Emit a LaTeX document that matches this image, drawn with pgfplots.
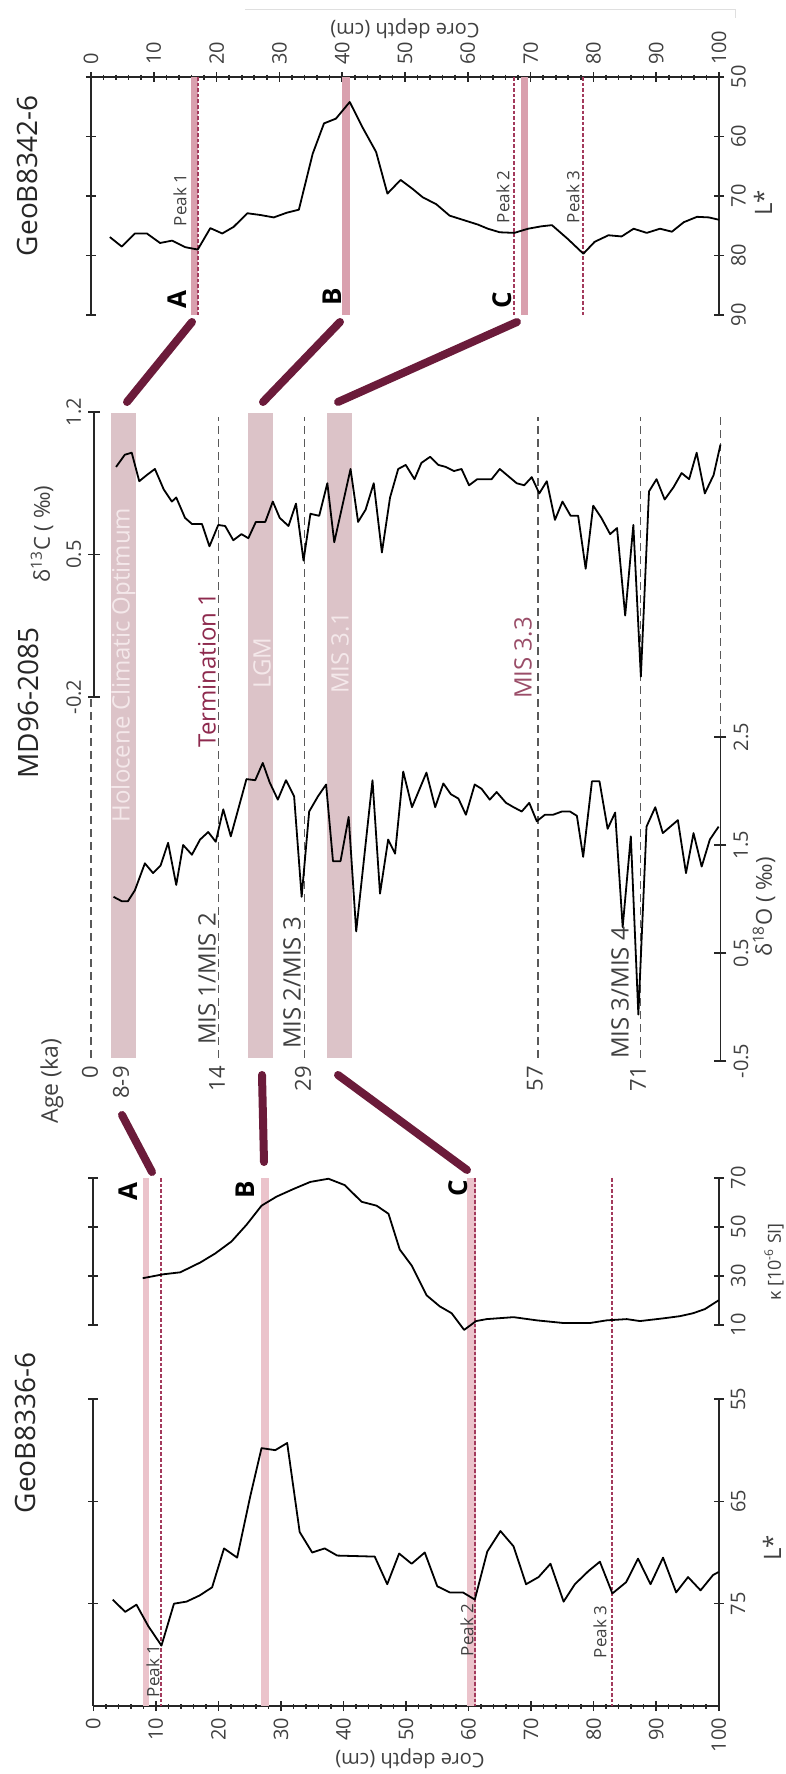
\documentclass[border=0pt]{standalone}
\usepackage{fontspec}
\setmainfont{Open Sans}
\usepackage{pgfplots}
\pgfplotsset{compat=1.18}

\definecolor{maroon}{HTML}{6B1B3A}
\definecolor{bandtop}{HTML}{D9A0AE}
\definecolor{bandmid}{HTML}{DCC3C8}
\definecolor{bandbot}{HTML}{EBC3CB}
\definecolor{peakline}{HTML}{A33A5C}
\definecolor{labelgray}{HTML}{404040}
\definecolor{bandtext}{HTML}{F4E8EA}
\definecolor{termcol}{HTML}{8E2A4E}
\definecolor{mis33}{HTML}{9A4D68}

\newcommand{\fs}[1]{\fontsize{#1}{#1}\selectfont}

\tikzset{
  peak/.style={peakline, line width=1pt, dash pattern=on 1.8pt off 1pt},
  agel/.style={gray!70!black, line width=0.6pt, dash pattern=on 4pt off 2.5pt},
}
\pgfplotsset{
  core/.style={
    scale only axis, clip=false, anchor=south west,
    axis line style={line width=0.9pt, black!85},
    tick style={black!85, line width=0.8pt},
    tick align=center,
    major tick length=5pt, minor tick length=2.5pt,
    /pgf/number format/assume math mode=true,
    tick label style={font=\fs{10}, text=labelgray},
  },
  depthx/.style={xmin=0, xmax=100, xtick={0,10,...,100}, minor x tick num=4,
    xticklabels={0,10,20,30,40,50,60,70,80,90,100}},
  curve/.style={black, line width=0.9pt, line join=round},
}

\begin{document}
\begin{tikzpicture}
\path[use as bounding box] (0,0) rectangle (393pt,887pt);

% ---------------- GeoB8342-6 : L* ----------------
\begin{axis}[core, depthx, at={(45.5pt,729.5pt)}, width=314pt, height=119pt,
  ymin=50, ymax=90, y dir=reverse,
  axis x line*=top, axis y line*=box,
  ytick={50,60,70,80,90}, yticklabels={50,60,70,80,90}, yticklabel pos=right,
  xticklabel style={rotate=90, anchor=west},
  yticklabel style={rotate=90, anchor=north},
]
\fill[bandtop] (axis cs:16.0,50) rectangle (axis cs:17.1,90);
\fill[bandtop] (axis cs:40.0,50) rectangle (axis cs:41.3,90);
\fill[bandtop] (axis cs:68.4,50) rectangle (axis cs:69.6,90);
\draw[peak] (axis cs:17.0,50) -- (axis cs:17.0,90);
\draw[peak] (axis cs:67.4,50) -- (axis cs:67.4,90);
\draw[peak] (axis cs:78.4,50) -- (axis cs:78.4,90);
\addplot[curve] table {
3.0 76.9
4.9 78.5
7.0 76.3
8.9 76.3
11.0 77.9
12.9 77.5
15.0 78.6
17.0 79.0
19.0 75.4
20.9 76.3
22.7 75.2
24.9 72.9
27.0 73.2
29.1 73.6
31.2 72.8
33.1 72.3
35.3 62.9
37.1 57.8
39.0 57.0
41.2 54.2
43.2 58.4
45.4 62.6
47.2 69.6
49.3 67.3
51.2 68.8
52.8 70.2
55.0 71.4
57.1 73.3
59.5 74.1
61.6 74.8
63.2 75.5
65.1 76.1
67.4 76.2
69.6 75.5
71.7 75.1
73.4 74.9
75.9 77.2
78.4 79.7
80.2 77.7
82.4 76.6
84.5 76.8
86.4 75.5
88.5 76.2
90.6 75.5
92.5 76.0
94.4 74.4
96.5 73.5
98.4 73.6
100.0 74.0
};
\end{axis}

% ---------------- MD96-2085 : bands and age marks ----------------
\begin{axis}[core, at={(47.05pt,358pt)}, width=313.2pt, height=322.5pt,
  xmin=0.5, xmax=100.4, ymin=0, ymax=645, hide axis]
\fill[bandmid] (axis cs:3.2,0) rectangle (axis cs:7.2,645);
\fill[bandmid] (axis cs:25.0,0) rectangle (axis cs:29.0,645);
\fill[bandmid] (axis cs:37.6,0) rectangle (axis cs:41.6,645);
\draw[agel] (axis cs:20.4,0) -- (axis cs:20.4,641);
\draw[agel] (axis cs:34.1,0) -- (axis cs:34.1,641);
\draw[agel] (axis cs:71.3,0) -- (axis cs:71.3,641);
\draw[agel] (axis cs:87.6,0) -- (axis cs:87.6,641);
\draw[agel] (axis cs:0.0,0) -- (axis cs:0.0,361);
\draw[agel] (axis cs:100.4,321) -- (axis cs:100.4,641);
\end{axis}

% ---------------- MD96-2085 : d13C ----------------
\begin{axis}[core, at={(47.05pt,538.5pt)}, width=313.2pt, height=142.5pt,
  xmin=0.5, xmax=100.4, ymin=-0.2, ymax=1.2,
  axis x line=none, axis y line*=left, major tick length=6pt,
  ytick={-0.2,0.5,1.2}, yticklabels={-0.2,0.5,1.2},
  yticklabel style={rotate=90, anchor=south},
]
\addplot[curve] table {
4.0 0.93
5.4 0.99
6.5 1.00
7.7 0.86
8.9 0.89
10.2 0.92
11.6 0.82
12.9 0.76
13.6 0.78
15.0 0.68
16.1 0.65
17.7 0.65
18.9 0.54
20.3 0.645
21.4 0.64
22.7 0.57
24.0 0.60
25.1 0.58
26.3 0.66
27.8 0.66
29.0 0.76
30.1 0.68
31.5 0.64
32.7 0.75
33.9 0.47
35.0 0.70
36.4 0.69
37.7 0.85
38.8 0.56
41.4 0.92
42.6 0.66
43.8 0.72
45.1 0.85
46.4 0.51
47.7 0.78
49.0 0.92
50.2 0.94
51.6 0.87
52.7 0.95
54.1 0.98
55.4 0.94
56.6 0.93
57.9 0.91
59.1 0.92
60.3 0.84
61.6 0.87
63.9 0.87
65.2 0.92
67.9 0.85
69.1 0.84
70.3 0.88
71.5 0.80
72.7 0.86
74.0 0.67
75.2 0.76
76.5 0.69
77.7 0.69
78.9 0.43
80.1 0.74
81.4 0.68
82.8 0.60
83.9 0.63
85.2 0.20
86.5 0.645
87.7 -0.10
89.0 0.81
90.2 0.87
91.5 0.77
92.9 0.83
94.2 0.90
95.4 0.87
96.6 1.00
97.9 0.80
99.3 0.89
100.4 1.04
};
\end{axis}

% ---------------- MD96-2085 : d18O ----------------
\begin{axis}[core, at={(47.05pt,356.5pt)}, width=313.2pt, height=162pt,
  xmin=0.5, xmax=100.4, ymin=-0.5, ymax=2.5,
  axis x line=none, axis y line*=right, major tick length=6pt,
  ytick={-0.5,0.5,1.5,2.5}, yticklabels={-0.5,0.5,1.5,2.5},
  yticklabel style={rotate=90, anchor=north},
]
\addplot[curve] table {
3.6 1.02
4.9 0.98
5.9 0.98
7.0 1.08
8.6 1.33
9.9 1.24
11.1 1.31
12.3 1.52
13.6 1.13
14.7 1.50
16.1 1.41
17.4 1.55
18.7 1.62
19.9 1.53
21.1 1.83
22.3 1.58
24.8 2.11
26.2 2.10
27.4 2.26
28.5 2.08
29.8 1.92
31.1 2.10
32.4 1.95
33.6 1.02
34.8 1.81
36.2 1.95
37.5 2.06
38.6 1.35
39.8 1.35
41.1 1.76
42.3 0.70
44.9 2.10
46.1 1.05
47.4 1.55
48.5 1.42
49.8 2.18
51.2 1.85
53.5 2.17
54.9 1.85
56.2 2.07
57.4 1.97
58.6 1.93
59.8 1.78
61.2 2.06
62.3 2.02
63.6 1.92
64.7 1.99
66.2 1.89
67.4 1.85
68.7 1.81
69.9 1.89
71.1 1.72
72.4 1.78
73.7 1.78
75.1 1.81
76.4 1.81
77.5 1.77
78.5 1.39
79.9 2.09
81.1 2.09
82.4 1.65
83.6 1.80
84.8 0.74
86.1 1.58
87.3 -0.07
88.6 1.67
90.0 1.85
91.2 1.61
93.6 1.73
94.9 1.24
96.1 1.61
97.4 1.30
98.7 1.55
100.1 1.67
};
\end{axis}

% ---------------- GeoB8336-6 : L* ----------------
\begin{axis}[core, depthx, at={(46.65pt,34pt)}, width=312.7pt, height=153.5pt,
  ymin=55, ymax=85, y dir=reverse,
  axis x line*=bottom, axis y line*=box,
  ytick={55,65,75}, yticklabels={55,65,75}, yticklabel pos=right,
  xticklabel style={rotate=90, anchor=east},
  yticklabel style={rotate=90, anchor=north},
]
\fill[bandbot] (axis cs:7.9,33.4) rectangle (axis cs:8.9,85);
\fill[bandbot] (axis cs:26.8,33.4) rectangle (axis cs:28.1,85);
\fill[bandbot] (axis cs:59.8,33.4) rectangle (axis cs:61.2,85);
\draw[peak] (axis cs:10.9,33.4) -- (axis cs:10.9,85);
\draw[peak] (axis cs:61.1,33.4) -- (axis cs:61.1,85);
\draw[peak] (axis cs:83.0,33.4) -- (axis cs:83.0,85);
\addplot[curve] table {
3.1 74.6
5.1 75.8
6.9 75.1
8.8 77.2
10.9 79.1
12.9 75.0
14.9 74.8
17.0 74.2
19.0 73.4
20.9 69.6
23.0 70.5
25.1 64.5
26.9 59.8
29.1 60.0
31.0 59.3
33.0 68.0
35.0 70.0
37.0 69.6
39.0 70.3
45.0 70.4
47.0 73.1
48.9 70.1
50.9 71.1
53.0 70.0
55.0 73.3
57.0 73.9
59.1 73.9
61.0 74.6
63.0 69.9
65.1 67.9
67.2 69.4
69.2 73.1
71.2 72.4
73.1 71.1
75.2 74.8
77.0 73.1
79.2 71.8
81.0 70.9
83.0 74.0
85.2 72.9
87.1 70.6
89.1 73.1
91.1 70.5
93.2 73.9
95.1 72.4
97.1 73.7
99.1 72.2
100.0 71.9
};
\end{axis}

% ---------------- GeoB8336-6 : magnetic susceptibility ----------------
\begin{axis}[core, at={(46.65pt,224.5pt)}, width=312.7pt, height=73.5pt,
  xmin=0, xmax=100, ymin=10, ymax=70,
  axis x line=none, axis y line*=box,
  ytick={10,30,50,70}, yticklabels={10,30,50,70}, yticklabel pos=right,
  yticklabel style={rotate=90, anchor=north},
]
\addplot[curve] table {
7.9 29.1
11.2 30.7
13.9 31.5
17.1 35.5
19.5 39.2
22.1 44.1
24.5 50.9
26.9 58.7
29.3 62.4
32.0 65.5
34.7 68.4
37.6 69.7
40.2 67.1
42.9 60.3
45.3 58.7
47.2 55.4
49.0 40.8
50.9 34.3
53.3 22.1
55.4 17.6
57.3 14.8
59.3 8.0
61.2 11.6
62.9 12.4
67.2 13.2
70.9 11.9
75.2 10.8
79.4 10.8
82.1 11.9
85.3 12.4
87.4 11.6
91.1 12.7
93.8 13.6
95.9 14.8
97.8 16.5
100.0 20.1
};
\end{axis}

% ---------------- titles, labels and tie lines ----------------
\begin{scope}[x=0.5pt, y=0.5pt]
\draw[gray!25, line width=0.5pt] (245,1774-10) -- (735,1774-10) -- (735,1774-18);

\node[rotate=90, font=\fs{14}, text=black!85] at (27,1774-176) {GeoB8342-6};
\node[rotate=90, font=\fs{14}, text=black!85] at (28,1774-703) {MD96-2085};
\node[rotate=90, font=\fs{14}, text=black!85] at (25,1774-1433) {GeoB8336-6};

\node[rotate=180, font=\fs{10}, text=labelgray] at (405,1774-29) {Core depth (cm)};
\node[rotate=180, font=\fs{10}, text=labelgray] at (410,1774-1759) {Core depth (cm)};

\node[rotate=90, font=\fs{12}, text=labelgray] at (763,1774-203) {L*};
\node[rotate=90, font=\fs{12}, text=labelgray] at (772,1774-1548) {L*};
\node[rotate=90, font=\fs{9}, text=labelgray] at (774,1774-1262) {κ [10\textsuperscript{-6} SI]};
\node[rotate=90, font=\fs{11}, text=labelgray] at (42,1774-534) {δ\textsuperscript{13}C ( ‰)};
\node[rotate=90, font=\fs{11}, text=labelgray] at (764,1774-907) {δ\textsuperscript{18}O ( ‰)};

% peak labels
\foreach \x/\y/\t in {180/200/1, 503/197/2, 573/197/3, 153/1671/1, 467/1630/2, 600/1632/3}
  \node[rotate=90, font=\fs{8.5}, text=labelgray] at (\x,1774-\y) {Peak \t};

% tie-point letters
\foreach \x/\y/\t in {177/300/A, 332/297/B, 502/300/C, 128/1192/A, 245/1190/B, 458/1188/C}
  \node[rotate=90, font=\fs{13}\bfseries, text=black] at (\x,1774-\y) {\t};

% stage labels
\node[rotate=90, font=\fs{12}, text=bandtext] at (123.5,1774-665) {Holocene Climatic Optimum};
\node[rotate=90, font=\fs{12}, text=termcol] at (207,1774-670) {Termination 1};
\node[rotate=90, font=\fs{12}, text=bandtext] at (262,1774-663) {LGM};
\node[rotate=90, font=\fs{12}, text=bandtext] at (340,1774-653) {MIS 3.1};
\node[rotate=90, font=\fs{12}, text=mis33] at (523,1774-658) {MIS 3.3};
\node[rotate=90, font=\fs{12}, text=labelgray] at (207,1774-979) {MIS 1/MIS 2};
\node[rotate=90, font=\fs{12}, text=labelgray] at (292,1774-983) {MIS 2/MIS 3};
\node[rotate=90, font=\fs{12}, text=labelgray] at (620,1774-993) {MIS 3/MIS 4};

% ages
\foreach \x/\t in {90/0, 121/8-9, 217/14, 303/29, 535/57, 638/71}
  \node[rotate=90, anchor=east, inner sep=0pt, font=\fs{11}, text=labelgray] at (\x,1774-1066) {\t};
\node[rotate=90, font=\fs{11.5}, text=labelgray] at (52,1774-1081) {Age (ka)};

% tie lines
\begin{scope}[maroon, line width=4pt, line cap=round]
\draw (127,1774-402) -- (192,1774-322);
\draw (263,1774-402) -- (340,1774-322);
\draw (338,1774-402) -- (517,1774-322);
\draw (122,1774-1115) -- (152,1774-1172);
\draw (262,1774-1075) -- (264,1774-1162);
\draw (338,1774-1075) -- (467,1774-1170);
\end{scope}
\end{scope}
\end{tikzpicture}
\end{document}
